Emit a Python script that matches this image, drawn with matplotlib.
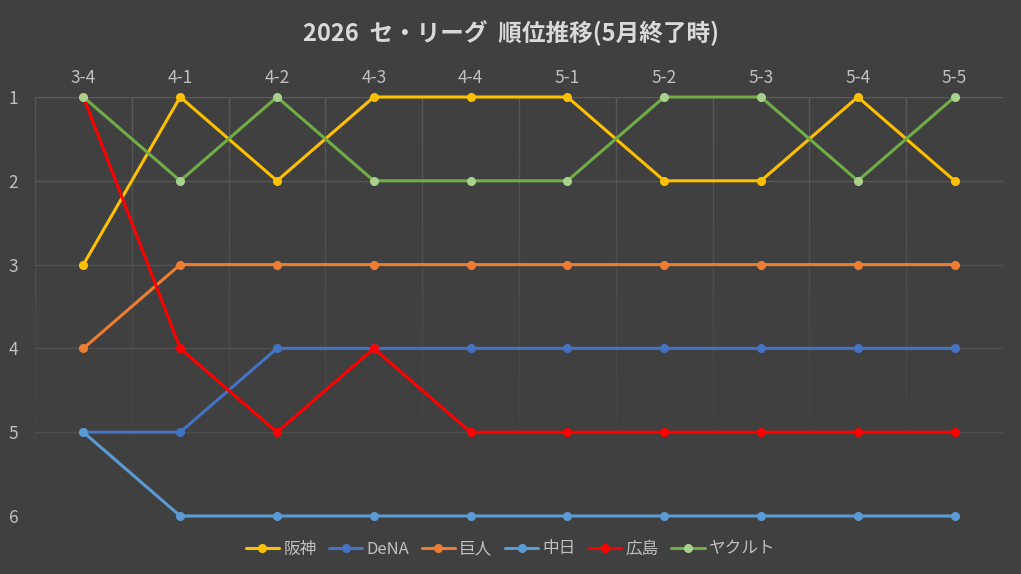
import numpy as np
import matplotlib.pyplot as plt
from matplotlib.collections import LineCollection

plt.rcParams['font.family'] = ['Noto Sans CJK JP', 'DejaVu Sans']

# data
rounds = ["3-4", "4-1", "4-2", "4-3", "4-4", "5-1", "5-2", "5-3", "5-4", "5-5"]
teams = ["阪神", "DeNA", "巨人", "中日", "広島", "ヤクルト"]
hanshin = [3, 1, 2, 1, 1, 1, 2, 2, 1, 2]
dena = [5, 5, 4, 4, 4, 4, 4, 4, 4, 4]
kyojin = [4, 3, 3, 3, 3, 3, 3, 3, 3, 3]
chunichi = [5, 6, 6, 6, 6, 6, 6, 6, 6, 6]
hiroshima = [1, 4, 5, 4, 5, 5, 5, 5, 5, 5]
yakult = [1, 2, 1, 2, 2, 2, 1, 1, 2, 1]
ranks = [hanshin, dena, kyojin, chunichi, hiroshima, yakult]

line_colors = ["#FFC000", "#4472C4", "#ED7D31", "#5B9BD5", "#FF0000", "#70AD47"]
marker_colors = ["#FFC000", "#4472C4", "#ED7D31", "#5B9BD5", "#FF0000", "#A9D18E"]

bg = "#404040"
txt = "#BFBFBF"
grid = "#5A5A5A"

fig = plt.figure(figsize=(10.21, 5.74), dpi=100, facecolor=bg)
ax = fig.add_axes([35 / 1021, 1 - 516 / 574, 968 / 1021, 419 / 574])
ax.set_facecolor(bg)

x = np.arange(len(rounds))

# grid: horizontal lines fade a little toward the bottom, verticals fade out
for r in range(1, 6):
    ax.axhline(r, color=grid, lw=1, alpha=1.0 - 0.12 * (r - 1), zorder=1)
ys = np.linspace(1, 5.85, 60)
for b in np.arange(-0.5, len(rounds) + 0.5, 1.0):
    segs = [[(b, ys[i]), (b, ys[i + 1])] for i in range(len(ys) - 1)]
    alphas = np.clip(1.0 - (ys[:-1] - 1) / 5.2, 0, 1) ** 1.3
    cols = [(0.353, 0.353, 0.353, a) for a in alphas]
    ax.add_collection(LineCollection(segs, colors=cols, linewidths=1, zorder=1))

for name, vals, lc, mc in zip(teams, ranks, line_colors, marker_colors):
    ax.plot(x, vals, color=lc, lw=2.2, marker="o", ms=5.5,
            markerfacecolor=mc, markeredgecolor=mc, label=name, zorder=3,
            solid_capstyle="round", clip_on=False)

ax.set_xlim(-0.5, len(rounds) - 0.5)
ax.set_ylim(6, 1)
ax.set_xticks(x)
ax.set_xticklabels(rounds)
ax.xaxis.tick_top()
ax.set_yticks([1, 2, 3, 4, 5, 6])
ax.tick_params(axis="both", length=0, colors=txt, labelsize=12.5)
ax.tick_params(axis="x", pad=7)
ax.tick_params(axis="y", pad=12)
for s in ax.spines.values():
    s.set_visible(False)

fig.text(0.5, 1 - 33 / 574, "2026  セ・リーグ  順位推移(5月終了時)", ha="center",
         va="center", fontsize=17, fontweight="bold", color="#D9D9D9")

leg = fig.legend(loc="center", bbox_to_anchor=(0.5, 1 - 549 / 574), ncol=6,
                 frameon=False, fontsize=12, handlelength=2.0, columnspacing=0.75,
                 handletextpad=0.25, labelcolor=txt)

fig.savefig("out.png", dpi=100, facecolor=bg)
